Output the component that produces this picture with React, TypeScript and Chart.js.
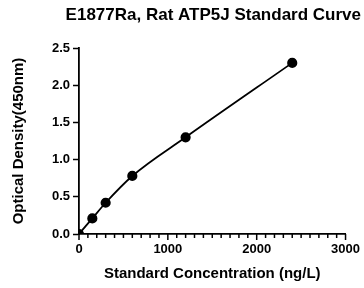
import React, { useEffect, useRef } from "react";
import { Chart, registerables } from "chart.js";

Chart.register(...registerables);

const concentrations = [0, 150, 300, 600, 1200, 2400];
const opticalDensity = [0.0, 0.21, 0.42, 0.78, 1.3, 2.3];
const titleText = "E1877Ra, Rat ATP5J Standard Curve";
const xTitle = "Standard Concentration (ng/L)";
const yTitle = "Optical Density(450nm)";
const FONT = 'Arial, "Liberation Sans", sans-serif';
const MINOR_STEP = 100;

const axisTicks = {
  id: "axisTicks",
  afterDraw(chart: any) {
    const sx = chart.scales.x;
    const ctx = chart.ctx;
    const y0 = chart.chartArea.bottom;
    ctx.save();
    ctx.strokeStyle = "#000";
    ctx.lineWidth = 1.5;
    for (let v = sx.min; v <= sx.max; v += MINOR_STEP) {
      const px = sx.getPixelForValue(v);
      const len = v % 1000 === 0 ? 6 : 4;
      ctx.beginPath();
      ctx.moveTo(px, y0);
      ctx.lineTo(px, y0 + len);
      ctx.stroke();
    }
    ctx.restore();
  },
};

export default function App() {
  const ref = useRef<HTMLCanvasElement>(null);
  useEffect(() => {
    document.body.style.margin = "0";
    const chart = new Chart(ref.current!, {
      type: "line",
      data: {
        datasets: [
          {
            data: concentrations.map((x, i) => ({ x, y: opticalDensity[i] })),
            borderColor: "#000",
            backgroundColor: "#000",
            borderWidth: 1.8,
            pointRadius: 4.2,
            pointBackgroundColor: "#000",
            cubicInterpolationMode: "monotone",
          },
        ],
      },
      plugins: [axisTicks],
      options: {
        animation: false,
        responsive: false,
        layout: { padding: { right: 3, left: 0, top: 0, bottom: 0 } },
        plugins: {
          legend: { display: false },
          tooltip: { enabled: false },
          title: {
            display: true,
            text: titleText,
            align: "end",
            color: "#000",
            font: { family: FONT, size: 17, weight: "bold" },
            padding: { top: 5, bottom: 22.6 },
          },
        },
        scales: {
          x: {
            type: "linear",
            min: 0,
            max: 3000,
            afterFit: (s: any) => {
              s.height = 54;
            },
            ticks: {
              stepSize: 1000,
              color: "#000",
              font: { family: FONT, size: 13, weight: "bold" },
              padding: 4,
              maxRotation: 0,
              callback: (v: any) => String(v),
            },
            grid: {
              drawOnChartArea: false,
              tickLength: 3.5,
              tickWidth: 0,
              tickColor: "rgba(0,0,0,0)",
            },
            border: { color: "#000", width: 1.8 },
            title: {
              display: true,
              text: xTitle,
              color: "#000",
              font: { family: FONT, size: 15, weight: "bold" },
              padding: { top: 0, bottom: 5 },
            },
          },
          y: {
            type: "linear",
            min: 0,
            max: 2.5,
            afterFit: (s: any) => {
              s.width = 79;
            },
            ticks: {
              stepSize: 0.5,
              color: "#000",
              font: { family: FONT, size: 13, weight: "bold" },
              padding: 3,
              callback: (v: any) => Number(v).toFixed(1),
            },
            grid: {
              drawOnChartArea: false,
              tickLength: 6,
              tickWidth: 1.5,
              tickColor: "#000",
            },
            border: { color: "#000", width: 1.8 },
            title: {
              display: true,
              text: yTitle,
              color: "#000",
              font: { family: FONT, size: 15, weight: "bold" },
              padding: { top: 10, bottom: 0 },
            },
          },
        },
      },
    });
    return () => chart.destroy();
  }, []);
  return (
    <div style={{ width: 364, height: 288 }}>
      <canvas ref={ref} width={364} height={288} style={{ display: "block" }} />
    </div>
  );
}
